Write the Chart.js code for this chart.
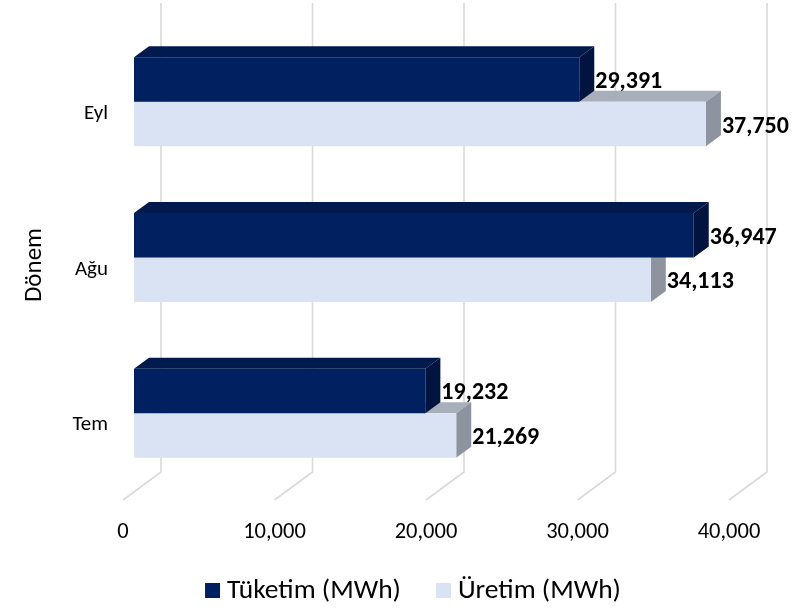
<!DOCTYPE html>
<html>
<head>
<meta charset="utf-8">
<script src="https://cdn.jsdelivr.net/npm/chart.js@4.4.0/dist/chart.umd.min.js"></script>
<style>
html, body { margin: 0; padding: 0; background: #fff; }
</style>
</head>
<body>
<canvas id="chart" width="797" height="611"></canvas>
<script>
// data
var categories = ['Eyl', 'Ağu', 'Tem'];
var tuketim = [29391, 36947, 19232];
var uretim = [37750, 34113, 21269];
var seriesNames = ['Tüketim (MWh)', 'Üretim (MWh)'];
var xTicks = [0, 10000, 20000, 30000, 40000];
var axisTitle = 'Dönem';

var FONT = 'Carlito, Calibri, Lato, sans-serif';
var frontColors = ['#002060', '#dae3f3'];
var topColors = ['#001a4e', '#a8afba'];
var sideColors = ['#00143f', '#8d949f'];

// fake 3d geometry
var DX = 15, DY = -11;      // bar depth
var WALL = 27;              // back wall offset from bar front
var FLOOR_BACK = -19, FLOOR_FRONT = 9;   // relative to chartArea.bottom

function fmt(v) {
	return Number(v).toLocaleString('en-US');
}

var depth3d = {
	id: 'depth3d',
	beforeDatasetsDraw: function(chart) {
		var ctx = chart.ctx, xs = chart.scales.x, area = chart.chartArea;
		ctx.save();
		// back wall + floor grid
		ctx.strokeStyle = '#d9d9d9';
		ctx.lineWidth = 1.6;
		xTicks.forEach(function(v) {
			var px = xs.getPixelForValue(v);
			ctx.beginPath();
			ctx.moveTo(px + WALL, 3);
			ctx.lineTo(px + WALL, area.bottom + FLOOR_BACK);
			ctx.lineTo(px + WALL - 38, area.bottom + FLOOR_FRONT);
			ctx.stroke();
		});
		// top and side faces, light series first so dark front hides it
		[1, 0].forEach(function(di) {
			chart.getDatasetMeta(di).data.forEach(function(bar) {
				var p = bar.getProps(['x', 'y', 'base', 'height'], true);
				var top = p.y - p.height / 2, bot = p.y + p.height / 2;
				ctx.fillStyle = topColors[di];
				ctx.beginPath();
				ctx.moveTo(p.base, top);
				ctx.lineTo(p.x, top);
				ctx.lineTo(p.x + DX, top + DY);
				ctx.lineTo(p.base + DX, top + DY);
				ctx.closePath();
				ctx.fill();
				ctx.fillStyle = sideColors[di];
				ctx.beginPath();
				ctx.moveTo(p.x, top);
				ctx.lineTo(p.x + DX, top + DY);
				ctx.lineTo(p.x + DX, bot + DY);
				ctx.lineTo(p.x, bot);
				ctx.closePath();
				ctx.fill();
			});
		});
		ctx.restore();
	},
	afterDatasetsDraw: function(chart) {
		var ctx = chart.ctx;
		ctx.save();
		ctx.font = 'bold 24px ' + FONT;
		ctx.fillStyle = '#000';
		ctx.textAlign = 'left';
		ctx.textBaseline = 'middle';
		chart.data.datasets.forEach(function(ds, di) {
			chart.getDatasetMeta(di).data.forEach(function(bar, i) {
				var p = bar.getProps(['x', 'y'], true);
				ctx.fillText(fmt(ds.data[i]), p.x + DX + 1, p.y + 2.5);
			});
		});
		ctx.restore();
	},
	afterDraw: function(chart) {
		var ctx = chart.ctx;
		ctx.save();
		// y axis title
		ctx.font = '25px ' + FONT;
		ctx.fillStyle = '#000';
		ctx.textAlign = 'center';
		ctx.textBaseline = 'middle';
		ctx.translate(35, 265);
		ctx.rotate(-Math.PI / 2);
		ctx.fillText(axisTitle, 0, 0);
		ctx.restore();

		// legend
		ctx.save();
		ctx.font = '27.5px ' + FONT;
		ctx.textBaseline = 'middle';
		ctx.textAlign = 'left';
		var widths = seriesNames.map(function(s) { return ctx.measureText(s).width; });
		var total = 15 + 7 + widths[0] + 35 + 15 + 7 + widths[1];
		var x = 413 - total / 2;
		seriesNames.forEach(function(s, i) {
			ctx.fillStyle = frontColors[i];
			ctx.fillRect(x, 583, 15, 15);
			ctx.fillStyle = '#000';
			ctx.fillText(s, x + 22, 591);
			x += 22 + widths[i] + 35;
		});
		ctx.restore();
	}
};

var chart = new Chart(document.getElementById('chart'), {
	type: 'bar',
	data: {
		labels: categories,
		datasets: [{
			label: seriesNames[0],
			data: tuketim,
			backgroundColor: frontColors[0]
		}, {
			label: seriesNames[1],
			data: uretim,
			backgroundColor: frontColors[1]
		}]
	},
	options: {
		indexAxis: 'y',
		responsive: false,
		animation: false,
		devicePixelRatio: 1,
		layout: {
			padding: { top: 24, right: 57, left: 0, bottom: 0 }
		},
		datasets: {
			bar: { barPercentage: 1, categoryPercentage: 0.572 }
		},
		scales: {
			x: {
				min: 0,
				max: 40000,
				afterBuildTicks: function(scale) {
					scale.ticks = xTicks.map(function(v) { return { value: v }; });
				},
				afterFit: function(scale) {
					scale.height = 120;
					scale.paddingLeft = 0;
					scale.paddingRight = 0;
				},
				grid: { display: false, drawTicks: false },
				border: { display: false },
				ticks: {
					padding: 28,
					labelOffset: -11,
					maxRotation: 0,
					color: '#000',
					font: { family: FONT, size: 22.5 },
					callback: function(v) { return fmt(v); }
				}
			},
			y: {
				afterFit: function(scale) {
					scale.width = 134;
					scale.paddingTop = 0;
					scale.paddingBottom = 0;
				},
				grid: { display: false, drawTicks: false },
				border: { display: false },
				ticks: {
					padding: 26,
					labelOffset: 12,
					color: '#000',
					font: { family: FONT, size: 21 }
				}
			}
		},
		plugins: {
			legend: { display: false },
			tooltip: { enabled: false }
		}
	},
	plugins: [depth3d]
});
</script>
</body>
</html>
